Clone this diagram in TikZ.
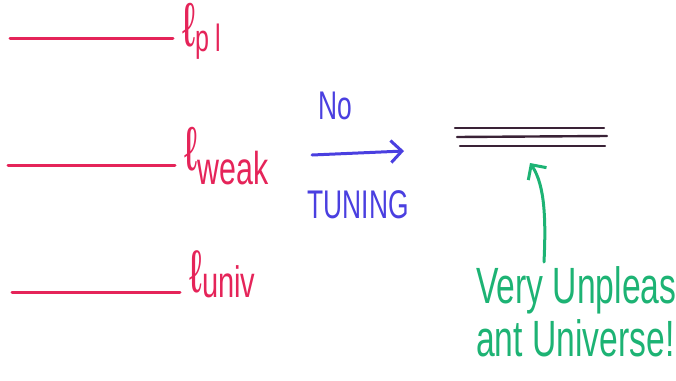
\documentclass[tikz,border=0pt]{standalone}
\usepackage{fontspec}
\usetikzlibrary{arrows.meta}
\newfontfamily\hand[FakeStretch=0.66]{Liberation Sans}
\definecolor{scalered}{HTML}{E52459}
\definecolor{tuneblue}{HTML}{4A3FE0}
\definecolor{unigreen}{HTML}{1DB374}
\definecolor{vacdark}{HTML}{3A2236}

\begin{document}
\begin{tikzpicture}[x=1pt, y=-1pt, line cap=round, line join=round]
      \tikzstyle{scale line}=[draw=scalered, line width=3pt, shorten >=9pt]
      \tikzstyle{scale label}=[anchor=base west, inner sep=0pt, text=scalered]
      \tikzstyle{vac line}=[draw=vacdark, line width=2.4pt]
      \tikzstyle{hand text}=[inner sep=0pt, font=\hand]
      \tikzstyle{hand arrow}=[-{Straight Barb[length=11pt, width=22pt]}, line width=3pt]

      \useasboundingbox (0,0) rectangle (676,380);

      % the three scales
      \coordinate (pl0) at (10,38);
      \coordinate (weak0) at (8,165);
      \coordinate (univ0) at (12,292);
      \node[scale label] (pl) at (182,46)
        {\hand\fontsize{62}{62}\selectfont ℓ\raisebox{-5pt}{\fontsize{38}{38}\selectfont p\,l}};
      \node[scale label] (weak) at (184,170)
        {\hand\fontsize{62}{62}\selectfont ℓ\raisebox{-14pt}{\fontsize{46}{46}\selectfont weak}};
      \node[scale label] (univ) at (189,292)
        {\hand\fontsize{60}{60}\selectfont ℓ\raisebox{-5pt}{\fontsize{44}{44}\selectfont univ}};
      \path[scale line] (pl0) -- (pl0 -| pl.west);
      \path[scale line] (weak0) -- (weak0 -| weak.west);
      \path[scale line] (univ0) -- (univ0 -| univ.west);

      % no tuning
      \coordinate (tune0) at (312,155);
      \coordinate (tune1) at (404,151);
      \draw[hand arrow, draw=tuneblue] (tune0) -- (tune1);
      \node[hand text, text=tuneblue] (no) at (335,106) {\fontsize{40}{40}\selectfont No};
      \node[hand text, text=tuneblue] (tuning) at (358,205) {\fontsize{40}{40}\selectfont TUNING};

      % the result
      \coordinate (vac1a) at (455,128);
      \coordinate (vac1b) at (604,128);
      \coordinate (vac2a) at (457,137);
      \coordinate (vac2b) at (607,136);
      \coordinate (vac3a) at (460,146);
      \coordinate (vac3b) at (605,146);
      \path[vac line] (vac1a) -- (vac1b);
      \path[vac line] (vac2a) -- (vac2b);
      \path[vac line] (vac3a) -- (vac3b);

      \node[hand text, text=unigreen, anchor=north west, align=left,
            font=\hand\fontsize{51}{53}\selectfont] (unpl) at (476,266)
        {Very Unpleas\\ant Universe!};
      \coordinate (arr0) at (544,262);
      \coordinate (arr1) at (530,163);
      \draw[hand arrow, draw=unigreen] (arr0) .. controls (546,220) and (545,185) .. (arr1);
\end{tikzpicture}
\end{document}
